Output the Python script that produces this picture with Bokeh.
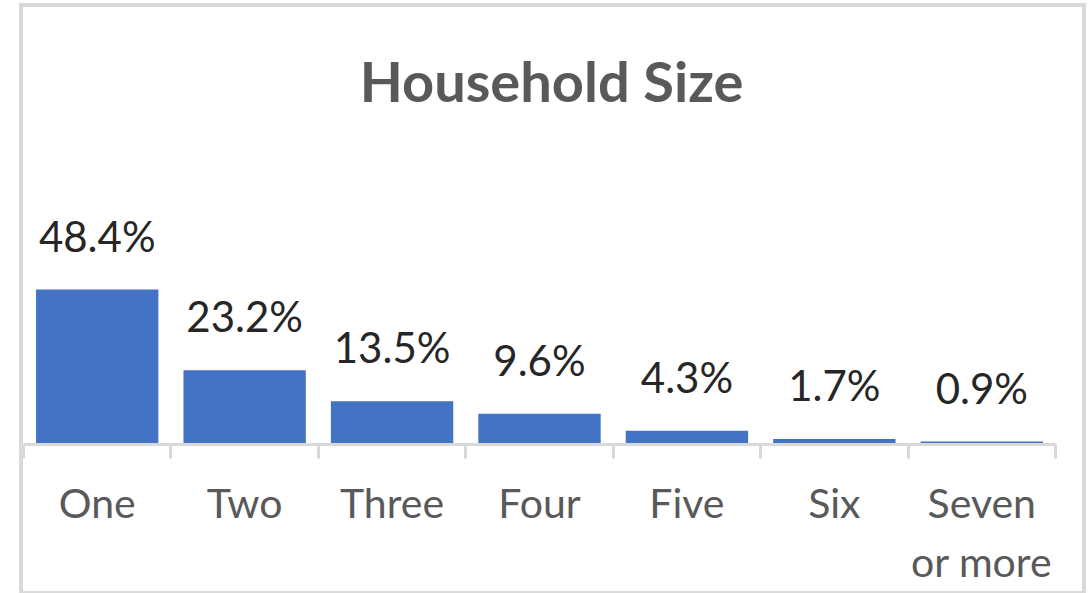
from bokeh.plotting import figure
from bokeh.models import (ColumnDataSource, Range1d, LinearAxis, FixedTicker,
                          Label)
from bokeh.core.properties import value
from bokeh.embed import file_html
from bokeh.resources import INLINE

categories = ["One", "Two", "Three", "Four", "Five", "Six", "Seven\nor more"]
shares = [48.4, 23.2, 13.5, 9.6, 4.3, 1.7, 0.9]
value_labels = [f"{v:.1f}%" for v in shares]
title_text = "Household Size"

FONT = "Lato"
W, H = 1089, 593
GRAY = "#d9d9d9"

p = figure(x_range=categories, y_range=Range1d(0, 138.75),
           width=W, height=H, output_backend="svg", toolbar_location=None,
           x_axis_location=None, y_axis_location=None,
           min_border_left=23, min_border_right=34, min_border_top=0,
           min_border_bottom=149)
p.x_range.range_padding = 0
p.grid.visible = False
p.outline_line_color = None
p.background_fill_color = None
p.border_fill_color = None

# chart-area border (drawn as CSS background behind the transparent canvas)
line = f"linear-gradient({GRAY},{GRAY})"
p.styles = {
    "background": (
        f"{line} 19px 3px / 4px 590px no-repeat, "
        f"{line} 19px 3px / 1067px 4px no-repeat, "
        f"{line} 1082px 3px / 4px 590px no-repeat, "
        f"{line} 19px 591px / 1067px 2px no-repeat, "
        "white"
    )
}

src = ColumnDataSource(dict(cat=categories, val=shares, lab=value_labels))
p.vbar(x="cat", top="val", bottom=0, width=0.83, source=src,
       fill_color="#4472C4", line_color=None)
p.text(x="cat", y="val", text="lab", source=src, text_align="center",
       text_baseline="alphabetic", y_offset=-54,
       text_font=value(FONT), text_font_size="42px", text_color="#262626")

# category axis: labels at category centres (synthetic coords), ticks at edges
n = len(categories)
ax = LinearAxis(ticker=FixedTicker(ticks=[i + 0.5 for i in range(n)],
                                   minor_ticks=list(range(n + 1))))
ax.major_label_overrides = {i + 0.5: c for i, c in enumerate(categories)}
ax.axis_line_color = GRAY
ax.axis_line_width = 3
ax.major_tick_line_color = None
ax.major_tick_out = 0
ax.major_tick_in = 0
ax.minor_tick_line_color = GRAY
ax.minor_tick_line_width = 3
ax.minor_tick_out = 14
ax.minor_tick_in = 0
ax.major_label_standoff = 19
ax.major_label_text_font = FONT
ax.major_label_text_font_size = "41px"
ax.major_label_text_color = "#595959"
ax.major_label_text_line_height = 1.22
p.add_layout(ax, "below")

p.add_layout(Label(x=551, y=79.5, x_units="canvas", y_units="canvas",
                   text=title_text, text_align="center",
                   text_baseline="alphabetic", text_font=FONT,
                   text_font_style="bold", text_font_size="56px",
                   text_color="#595959"))

open("out.html", "w").write(file_html(p, INLINE))
